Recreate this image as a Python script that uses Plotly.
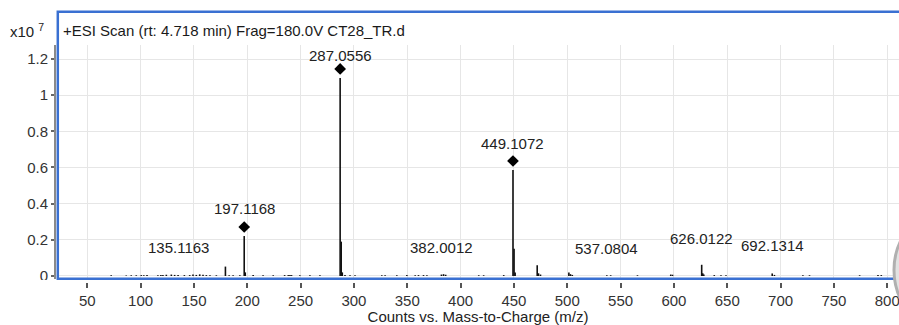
import plotly.graph_objects as go

# ---------------- data (intensity in units of 10^7 counts) ----------------
mz = [72.4, 86.5, 91.2, 95.9, 100.6, 103.0, 106.0, 116.2, 119.0, 120.9, 124.1, 128.8,
      131.9, 135.1163, 141.0, 146.0, 149.1, 152.2, 155.4, 158.5, 161.6, 165.0, 171.0,
      179.5, 183.0, 186.7, 193.0, 197.1168, 198.1, 205.5, 214.8, 224.3, 235.0, 238.4,
      240.0, 241.5, 249.3, 258.7, 268.1, 287.0556, 288.06, 289.06, 291.6, 296.3, 301.0,
      326.1, 329.2, 340.2, 349.6, 357.4, 360.5, 365.2, 368.4, 382.0012, 384.0, 386.0,
      417.0, 421.6, 440.4, 449.1072, 450.11, 451.1, 471.8, 473.0, 474.9, 501.5, 503.0,
      504.7, 537.0804, 540.7, 565.8, 597.0, 598.7, 626.0122, 627.0, 628.0, 637.8, 644.1,
      648.8, 692.1314, 694.2, 720.9, 727.1, 774.1, 791.3, 794.4]
intensity = [0.004, 0.003, 0.004, 0.004, 0.005, 0.004, 0.005, 0.004, 0.006, 0.005, 0.007, 0.008,
             0.006, 0.006, 0.005, 0.005, 0.008, 0.006, 0.009, 0.007, 0.005, 0.004, 0.004,
             0.052, 0.004, 0.004, 0.004, 0.221, 0.020, 0.005, 0.004, 0.004, 0.005, 0.005,
             0.006, 0.005, 0.004, 0.004, 0.004, 1.095, 0.190, 0.020, 0.005, 0.004, 0.004,
             0.004, 0.004, 0.004, 0.005, 0.004, 0.005, 0.005, 0.004, 0.008, 0.010, 0.007,
             0.004, 0.004, 0.005, 0.586, 0.150, 0.020, 0.060, 0.015, 0.008, 0.020, 0.010,
             0.006, 0.004, 0.004, 0.004, 0.008, 0.007, 0.062, 0.015, 0.008, 0.005, 0.004,
             0.004, 0.014, 0.006, 0.004, 0.004, 0.004, 0.005, 0.005]

# annotated peaks
label_mz = [135.1163, 197.1168, 287.0556, 382.0012, 449.1072, 537.0804, 626.0122, 692.1314]
label_y = [0.160, 0.371, 1.222, 0.160, 0.734, 0.151, 0.210, 0.166]   # label heights (x10^7)
marked_mz = [197.1168, 287.0556, 449.1072]                           # peaks with diamond markers

x_ticks = [50, 100, 150, 200, 250, 300, 350, 400, 450, 500, 550, 600, 650, 700, 750, 800]
y_ticks = [0, 0.2, 0.4, 0.6, 0.8, 1.0, 1.2]

title_text = "+ESI Scan (rt: 4.718 min) Frag=180.0V CT28_TR.d"
x_title = "Counts vs. Mass-to-Charge (m/z)"

# ---------------- layout geometry (pixels) ----------------
W, H = 899, 325
L, R, T, B = 57, 899, 45, 278
def xp(px): return (px - L) / (R - L)
def yp(py): return (B - py) / (B - T)

FONT = "Liberation Sans"
FS = 15

# stick spectrum built from the arrays
sx, sy = [], []
for m, h in zip(mz, intensity):
    sx += [m, m, None]
    sy += [0, h, None]

fig = go.Figure()
fig.add_trace(go.Scatter(x=sx, y=sy, mode="lines",
                         line=dict(color="#111111", width=1.6),
                         hoverinfo="skip", showlegend=False))

lookup = dict(zip(mz, intensity))
diamond_off = 0.05
fig.add_trace(go.Scatter(x=marked_mz, y=[lookup[m] + diamond_off for m in marked_mz],
                         mode="markers",
                         marker=dict(symbol="diamond", size=9, color="#000000"),
                         hoverinfo="skip", showlegend=False))

annotations = []
for m, y in zip(label_mz, label_y):
    annotations.append(dict(x=m, y=y, xref="x", yref="y", text=f"{m:.4f}",
                            showarrow=False, xanchor="center", yanchor="middle",
                            font=dict(family=FONT, size=FS, color="#222222")))
annotations.append(dict(x=xp(61), y=yp(30), xref="paper", yref="paper", text=title_text,
                        showarrow=False, xanchor="left", yanchor="middle",
                        font=dict(family=FONT, size=FS, color="#1a1a1a")))
annotations.append(dict(x=xp(8), y=yp(30), xref="paper", yref="paper",
                        text="x10 <sup>7</sup>",
                        showarrow=False, xanchor="left", yanchor="middle",
                        font=dict(family=FONT, size=FS, color="#222222")))

shapes = [
    # white strip separating x ticks from the baseline
    dict(type="rect", xref="paper", yref="paper", x0=xp(40), x1=xp(905),
         y0=yp(283), y1=yp(280), fillcolor="white", line=dict(width=0), layer="above"),
    # grey y-axis line
    dict(type="line", xref="paper", yref="paper", x0=xp(55), x1=xp(55),
         y0=yp(279), y1=yp(45), line=dict(color="#8a8a8a", width=2), layer="above"),
    # blue frame
    dict(type="rect", xref="paper", yref="paper", x0=xp(57.8), x1=xp(910),
         y0=yp(278.8), y1=yp(11.8), line=dict(color="#3a70d2", width=2.5),
         fillcolor="rgba(0,0,0,0)", layer="above"),
    # scroll-knob arc at right edge
    dict(type="circle", xref="paper", yref="paper", x0=xp(894), x1=xp(1026),
         y0=yp(336), y1=yp(204), fillcolor="#e2e2e2",
         line=dict(color="#b0b0b0", width=3), layer="above"),
]

fig.update_layout(
    width=W, height=H,
    margin=dict(l=L, r=W - R, t=T, b=H - B, pad=0),
    paper_bgcolor="white", plot_bgcolor="white",
    font=dict(family=FONT, size=FS, color="#333333"),
    annotations=annotations, shapes=shapes,
    xaxis=dict(range=[21.6, 811.0], tickvals=x_ticks, ticks="outside", ticklen=9,
               tickcolor="#555555", tickwidth=1.5, showgrid=True, gridcolor="#e6e6e6",
               gridwidth=1, zeroline=False, showline=False,
               ticklabeloverflow="allow",
               tickfont=dict(family=FONT, size=FS, color="#333333"),
               title=dict(text=x_title, standoff=3,
                          font=dict(family=FONT, size=FS, color="#222222"))),
    yaxis=dict(range=[-0.0111, 1.2774], tickvals=y_ticks, ticks="outside", ticklen=5,
               tickcolor="#666666", tickwidth=1.5, showgrid=True, gridcolor="#e6e6e6",
               gridwidth=1, zeroline=False, showline=False,
               tickfont=dict(family=FONT, size=FS, color="#333333")),
)

fig.write_html("out.html")
